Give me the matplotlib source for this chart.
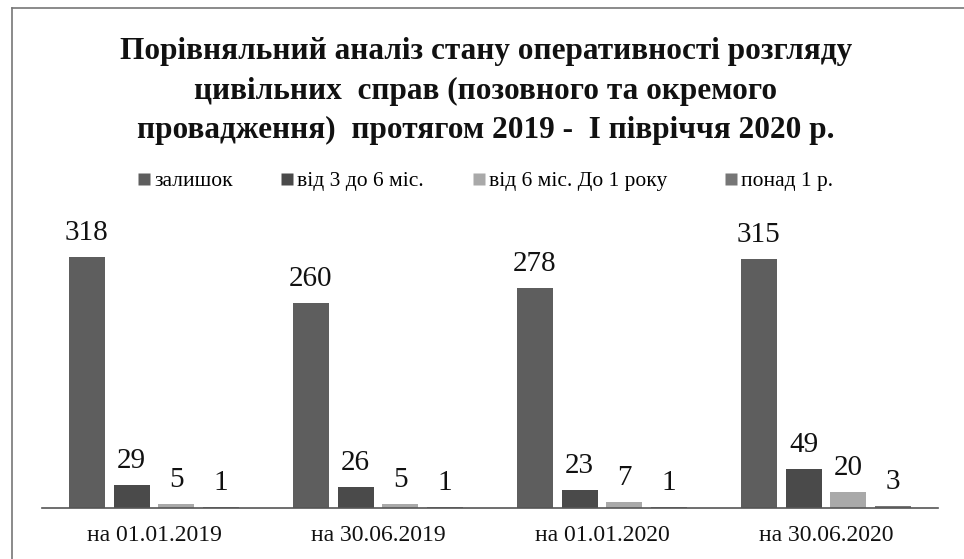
import matplotlib
matplotlib.use("Agg")
import matplotlib.pyplot as plt
import numpy as np
from matplotlib.lines import Line2D

categories = ["на 01.01.2019", "на 30.06.2019", "на 01.01.2020", "на 30.06.2020"]
series_names = ["залишок", "від 3 до 6 міс.", "від 6 міс. До 1 року", "понад 1 р."]
zalyshok = [318, 260, 278, 315]
vid3do6 = [29, 26, 23, 49]
vid6do12 = [5, 5, 7, 20]
ponad1 = [1, 1, 1, 3]
series = [zalyshok, vid3do6, vid6do12, ponad1]
colors = ["#5e5e5e", "#4a4a4a", "#a9a9a9", "#767676"]

title = ("Порівняльний аналіз стану оперативності розгляду\n"
         "цивільних  справ (позовного та окремого\n"
         "провадження)  протягом 2019 -  І півріччя 2020 р.")

plt.rcParams['font.family'] = ['Liberation Serif', 'DejaVu Serif']

W, H = 964, 559
fig = plt.figure(figsize=(W / 100, H / 100), dpi=100)
fig.patch.set_facecolor("white")

ax_left, ax_right = 42, 938
ax_bottom, ax_top = 508, 230
ax = fig.add_axes([ax_left / W, 1 - ax_bottom / H, (ax_right - ax_left) / W, (ax_bottom - ax_top) / H])

x = np.arange(len(categories))
slot = 0.2
bw = 0.16
for i, (vals, c) in enumerate(zip(series, colors)):
    pos = x + (i - 1.5) * slot
    ax.bar(pos, vals, width=bw, color=c, edgecolor="none", zorder=2)
    for p, v in zip(pos, vals):
        ax.text(p, v + 14, str(v), ha="center", va="bottom", fontsize=21, color="#111111")

ax.set_xlim(-0.5, len(categories) - 0.5)
ax.set_ylim(0, (ax_bottom - ax_top) / 0.79)
ax.set_yticks([])
ax.set_xticks(x)
ax.set_xticklabels(categories, fontsize=17, color="#111111")
ax.tick_params(axis="x", length=0, pad=12)
for s in ["top", "right", "left"]:
    ax.spines[s].set_visible(False)
ax.spines["bottom"].set_color("#555555")
ax.spines["bottom"].set_linewidth(1.2)

fig.text(486 / W, 1 - 91 / H, title, ha="center", va="center", fontsize=22.5,
         fontweight="bold", linespacing=1.45, color="#111111")

leg_x = [138, 281, 473, 725]
for name, c, lx in zip(series_names, colors, leg_x):
    h = Line2D([0], [0], marker="s", color="none", markerfacecolor=c, markeredgecolor="none",
               markersize=8)
    fig.legend([h], [name], loc="center left", bbox_to_anchor=(lx / W, 1 - 181 / H),
               frameon=False, fontsize=15.5, handletextpad=0.15, handlelength=0.6,
               borderpad=0, borderaxespad=0)

fig.add_artist(Line2D([12 / W, 1], [1 - 8 / H, 1 - 8 / H], transform=fig.transFigure,
                      color="#777777", lw=1.2))
fig.add_artist(Line2D([12 / W, 12 / W], [1 - 8 / H, 0], transform=fig.transFigure,
                      color="#777777", lw=1.2))

fig.savefig("out.png", dpi=100, facecolor="white")
